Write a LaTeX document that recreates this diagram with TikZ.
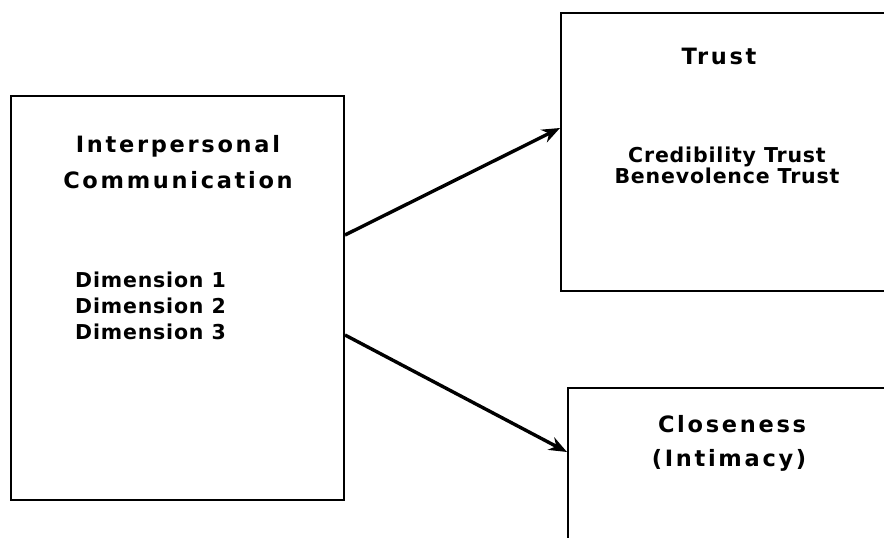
\documentclass[tikz,border=0pt]{standalone}
\usepackage{fontspec}
\setmainfont{DejaVu Sans}
\newfontfamily\headfont{DejaVu Sans}[LetterSpace=12]
\newfontfamily\itemfont{DejaVu Sans}[LetterSpace=4]
\usetikzlibrary{arrows.meta}

\begin{document}
\begin{tikzpicture}[x=1pt, y=-1pt,
        box/.style={draw=black, line width=2pt, inner sep=0pt},
        title/.style={anchor=base, inner sep=0pt, font=\headfont\bfseries\fontsize{22.5}{26}\selectfont},
        item/.style={inner sep=0pt, font=\itemfont\bfseries\fontsize{20.5}{24}\selectfont},
        arrow/.style={-{Stealth[length=18pt, width=14pt]}, line width=3.4pt}
    ]
    \clip (0,0) rectangle (884,538);

    \node[box, minimum width=333pt, minimum height=404pt] (comm) at (177.5,298) {};
    \node[box, minimum width=339pt, minimum height=278pt] (trust) at (730.5,152) {};
    \node[box, minimum width=332pt, minimum height=212pt] (close) at (734,494) {};

    \node[title] (inter) at (178,152) {Interpersonal};
    \node[title] (commtitle) at (178,188) {Communication};
    \node[item, anchor=base west] (dim1) at (75,287) {Dimension 1};
    \node[item, anchor=base west] (dim2) at (75,313) {Dimension 2};
    \node[item, anchor=base west] (dim3) at (75,339) {Dimension 3};

    \node[title] (trusttitle) at (719,64) {Trust};
    \node[item, anchor=base] (cred) at (727,162) {Credibility Trust};
    \node[item, anchor=base] (bene) at (727,183) {Benevolence Trust};

    \node[title] (closetitle) at (732,432) {Closeness};
    \node[title] (intim) at (729,466) {(Intimacy)};

    \draw[arrow] ([yshift=63pt]comm.east) -- ([yshift=24pt]trust.west);
    \draw[arrow] ([yshift=-37pt]comm.east) -- ([yshift=-65pt]close.north west);

\end{tikzpicture}
\end{document}
